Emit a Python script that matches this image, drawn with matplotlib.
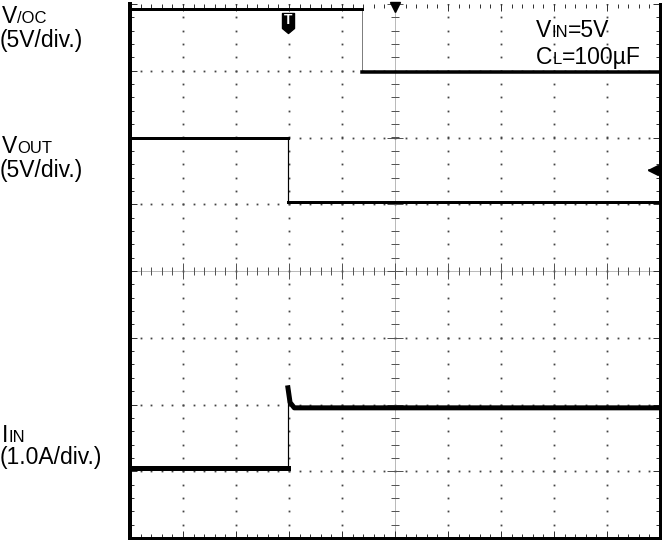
import matplotlib
matplotlib.use('Agg')
import matplotlib.pyplot as plt
import numpy as np
from matplotlib.path import Path

plt.rcParams['font.family'] = ['Liberation Sans', 'DejaVu Sans']

# trace data, in scope divisions (x: -5..5, y: -4..4)
voc_time = [-5.0, -0.62, -0.62, 5.0]
voc_div = [3.93, 3.93, 2.98, 2.98]
vout_time = [-5.0, -2.02, -2.02, 5.0]
vout_div = [1.99, 1.99, 1.03, 1.03]
iin_time = [-5.0, -2.02, -2.02, -1.98, -1.9, 5.0]
iin_div = [-2.95, -2.95, -1.75, -1.97, -2.05, -2.05]

trig_time = -2.02
trig_level = 1.51

# channel labels: (x px, baseline px, [(text, big?)])
labels = [
    (2, 23, [('V', True), ('/OC', False)]),
    (0, 47, [('(5V/div.)', True)]),
    (2, 153, [('V', True), ('OUT', False)]),
    (0, 177, [('(5V/div.)', True)]),
    (2, 442, [('I', True), ('IN', False)]),
    (0, 464, [('(1.0A/div.)', True)]),
    (536, 37, [('V', True), ('IN', False), ('=5V', True)]),
    (536, 64, [('C', True), ('L', False), ('=100µF', True)]),
]

W, H = 665, 542
PX = 0.72  # points per pixel at dpi 100
BIG, SMALL = 16.5, 12

fig = plt.figure(figsize=(W / 100, H / 100), dpi=100)
ax = fig.add_axes([130 / W, (H - 538) / H, 530 / W, 534 / H])
ax.set_xlim(-5, 5)
ax.set_ylim(-4, 4)

minor_x = np.arange(-5, 5.001, 0.2)
minor_y = np.arange(-4, 4.001, 0.2)

# graticule dots
gx = [v for v in range(-4, 5) if v != 0]
gy = [v for v in range(-3, 4) if v != 0]
X, Y = np.meshgrid(gx, minor_y)
ax.plot(X.ravel(), Y.ravel(), 's', ms=1.3, color='#444', mec='none', zorder=1)
X, Y = np.meshgrid(minor_x, gy)
ax.plot(X.ravel(), Y.ravel(), 's', ms=1.3, color='#444', mec='none', zorder=1)

# center crosshair
ax.axhline(0, color='#777', lw=1 * PX, ls=(0, (1, 1)), zorder=1)
ax.axvline(0, color='#777', lw=1 * PX, ls=(0, (1, 1)), zorder=1)
ax.plot(minor_x, np.zeros_like(minor_x), '|', ms=8 * PX, mew=1 * PX, color='#555', zorder=1)
ax.plot(np.arange(-5, 6), np.zeros(11), '|', ms=16 * PX, mew=1 * PX, color='#555', zorder=1)
ax.plot(np.zeros_like(minor_y), minor_y, '_', ms=8 * PX, mew=1 * PX, color='#555', zorder=1)
ax.plot(np.zeros(9), np.arange(-4, 5), '_', ms=16 * PX, mew=1 * PX, color='#555', zorder=1)

# border ticks
ax.set_xticks(np.arange(-5, 6))
ax.set_yticks(np.arange(-4, 5))
ax.set_xticks(minor_x, minor=True)
ax.set_yticks(minor_y, minor=True)
ax.tick_params(which='both', direction='in', top=True, right=True,
               labelbottom=False, labelleft=False, color='#333', width=1 * PX)
ax.tick_params(which='major', length=7 * PX)
ax.tick_params(which='minor', length=4 * PX)
for side in ['left', 'right', 'bottom']:
    ax.spines[side].set_linewidth(3 * PX)
ax.spines['left'].set_linewidth(4 * PX)
ax.spines['top'].set_visible(False)

# traces
ax.plot(voc_time[:2], voc_div[:2], color='black', lw=3 * PX, zorder=3, clip_on=False)
ax.plot(voc_time[1:3], voc_div[1:3], color='black', lw=1 * PX, ls=(0, (1, 1)), zorder=3)
ax.plot(voc_time[2:], voc_div[2:], color='black', lw=3.5 * PX, zorder=3)
ax.plot(vout_time[:2], vout_div[:2], color='black', lw=3 * PX, zorder=3)
ax.plot(vout_time[1:3], vout_div[1:3], color='black', lw=1.2 * PX, zorder=3)
ax.plot(vout_time[2:], vout_div[2:], color='black', lw=3 * PX, zorder=3)
ax.plot(iin_time[:2], iin_div[:2], color='black', lw=5 * PX, zorder=3)
ax.plot(iin_time[1:3], iin_div[1:3], color='black', lw=1.2 * PX, zorder=3)
ax.plot(iin_time[2:], iin_div[2:], color='black', lw=5 * PX, zorder=3)

# trigger markers
shield = Path([(-0.3, 0.5), (0.3, 0.5), (0.3, -0.25), (0, -0.5), (-0.3, -0.25), (-0.3, 0.5)],
              [Path.MOVETO, Path.LINETO, Path.LINETO, Path.LINETO, Path.LINETO, Path.CLOSEPOLY])
ax.plot([trig_time], [3.72], marker=shield, ms=20 * PX, color='black', zorder=4)
ax.text(trig_time, 3.76, 'T', color='white', fontsize=10, fontweight='bold',
        ha='center', va='center', zorder=5)
ax.plot([0], [3.96], 'v', ms=10 * PX, color='black', zorder=4, clip_on=False)
ax.plot([4.8, 5.0], [trig_level, trig_level], color='black', lw=1.5 * PX, zorder=4)
ax.plot([4.86], [trig_level], '<', ms=10 * PX, color='black', zorder=4)

# labels
r = fig.canvas.get_renderer()
for x, y, parts in labels:
    for s, big in parts:
        t = fig.text(x / W, 1 - y / H, s, fontsize=BIG if big else SMALL,
                     va='baseline', ha='left')
        x += t.get_window_extent(r).width

fig.savefig('out.png', dpi=100)
